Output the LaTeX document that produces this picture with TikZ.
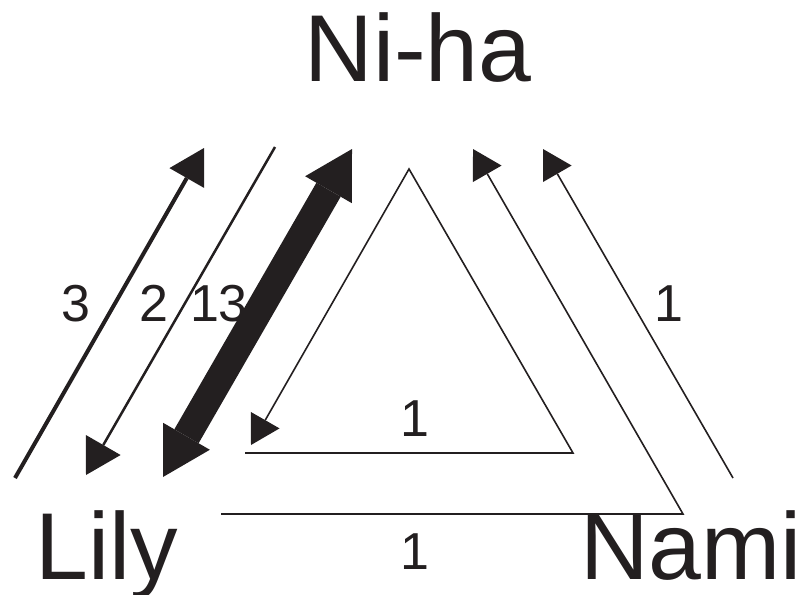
\documentclass[tikz,border=0pt]{standalone}
\usepackage{fontspec}
\setmainfont{Liberation Sans}
\usetikzlibrary{arrows.meta}
\definecolor{ink}{HTML}{231F20}

\begin{document}
\begin{tikzpicture}[x=1pt, y=-1pt, color=ink,
      who/.style={font=\fontsize{95}{95}\selectfont, inner sep=0pt, anchor=base},
      num/.style={font=\fontsize{52}{52}\selectfont, inner sep=0pt, anchor=base},
      flow/.style={-{Triangle[length=28.6pt, width=33pt, line width=0pt]}, line width=1.6pt},
      mid/.style={-{Triangle[length=34.6pt, width=40pt, line width=0pt]}},
      heavy/.style={{Triangle[length=47pt, width=54pt, line width=0pt]}-{Triangle[length=47pt, width=54pt, line width=0pt]},
                    line width=28pt}]
    \useasboundingbox (0,0) rectangle (799,594);
    \node[who] (n) at (418,81) {Ni-ha};
    \node[who] (l) at (107,579) {Lily};
    \node[who] (m) at (691,579) {Nami};
    % ends of the connectors
    \coordinate (a1) at (15,478);   \coordinate (a2) at (204,148);
    \coordinate (b1) at (275,147);  \coordinate (b2) at (86,475);
    \coordinate (c1) at (163,477);  \coordinate (c2) at (352,149);
    \coordinate (d1) at (245,453);  \coordinate (d2) at (573,453);
    \coordinate (d3) at (409,169);  \coordinate (d4) at (251,445);
    \coordinate (e1) at (221,514);  \coordinate (e2) at (683,514);
    \coordinate (e3) at (473,149);
    \coordinate (f1) at (733,478);  \coordinate (f2) at (543,149);
    \draw[mid, line width=4pt] (a1)--(a2);
    \draw[mid, line width=2.5pt] (b1)--(b2);
    \draw[heavy] (c1)--(c2);
    \draw[flow] (d1)--(d2)--(d3)--(d4);
    \draw[flow] (e1)--(e2)--(e3);
    \draw[flow] (f1)--(f2);
    % counts
    \node[num] (k3) at (76,321) {3};
    \node[num] (k2) at (154,321) {2};
    \node[num] (k13) at (219,321) {13};
    \node[num] (k1a) at (415,436) {1};
    \node[num] (k1b) at (415,569) {1};
    \node[num] (k1c) at (669,321) {1};
  \end{tikzpicture}
\end{document}
